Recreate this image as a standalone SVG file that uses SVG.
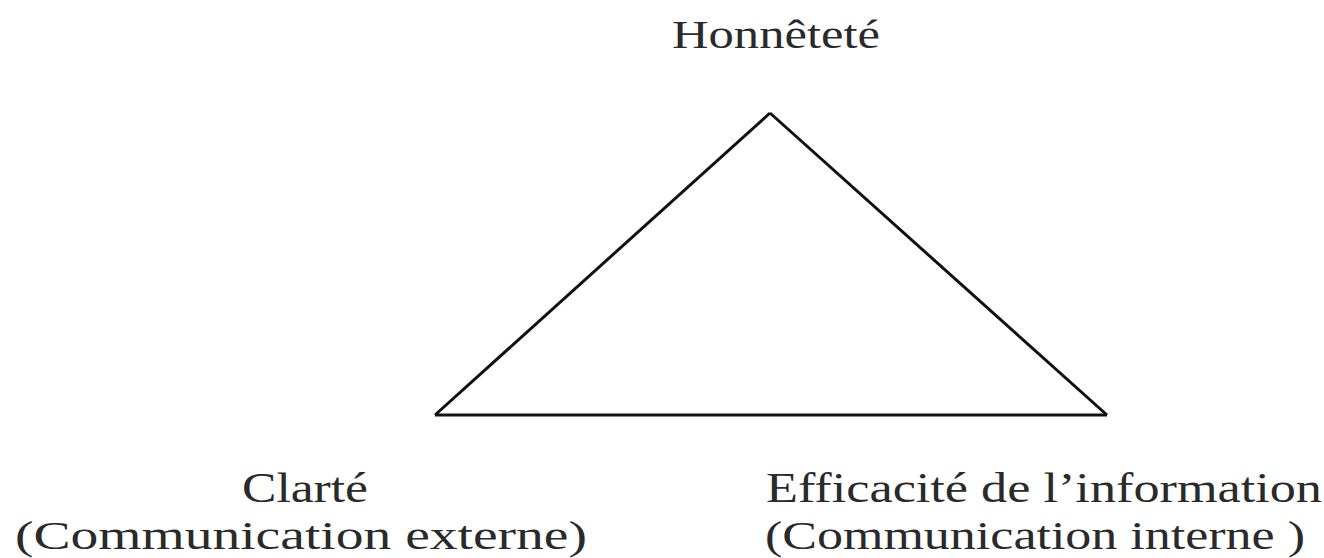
<svg xmlns="http://www.w3.org/2000/svg" width="1324" height="558" viewBox="0 0 1324 558">
<style>
text{font-family:"Liberation Serif","Times New Roman",serif;fill:#2a2a2a}
.t{font-size:39px}
.l1{font-size:43px}
.l2{font-size:41px}
.edge{stroke:#111;stroke-width:3;fill:none}
</style>
<rect width="1324" height="558" fill="#fff"/>
<g id="connectors">
<line class="edge" x1="770" y1="113" x2="435" y2="415"/>
<line class="edge" x1="770" y1="113" x2="1107" y2="415"/>
<line class="edge" x1="435" y1="415" x2="1107" y2="415"/>
</g>
<g id="honnetete"><text class="t" x="672" y="48" textLength="208" lengthAdjust="spacingAndGlyphs">Honnêteté</text></g>
<g id="clarte">
<text class="l1" x="242" y="502" textLength="126" lengthAdjust="spacingAndGlyphs">Clarté</text>
<text class="l2" x="15" y="549" textLength="572" lengthAdjust="spacingAndGlyphs">(Communication externe)</text>
</g>
<g id="efficacite">
<text class="l1" x="766" y="502" textLength="556" lengthAdjust="spacingAndGlyphs">Efficacité de l’information</text>
<text class="l2" x="765" y="549" textLength="540" lengthAdjust="spacingAndGlyphs">(Communication interne )</text>
</g>
</svg>
